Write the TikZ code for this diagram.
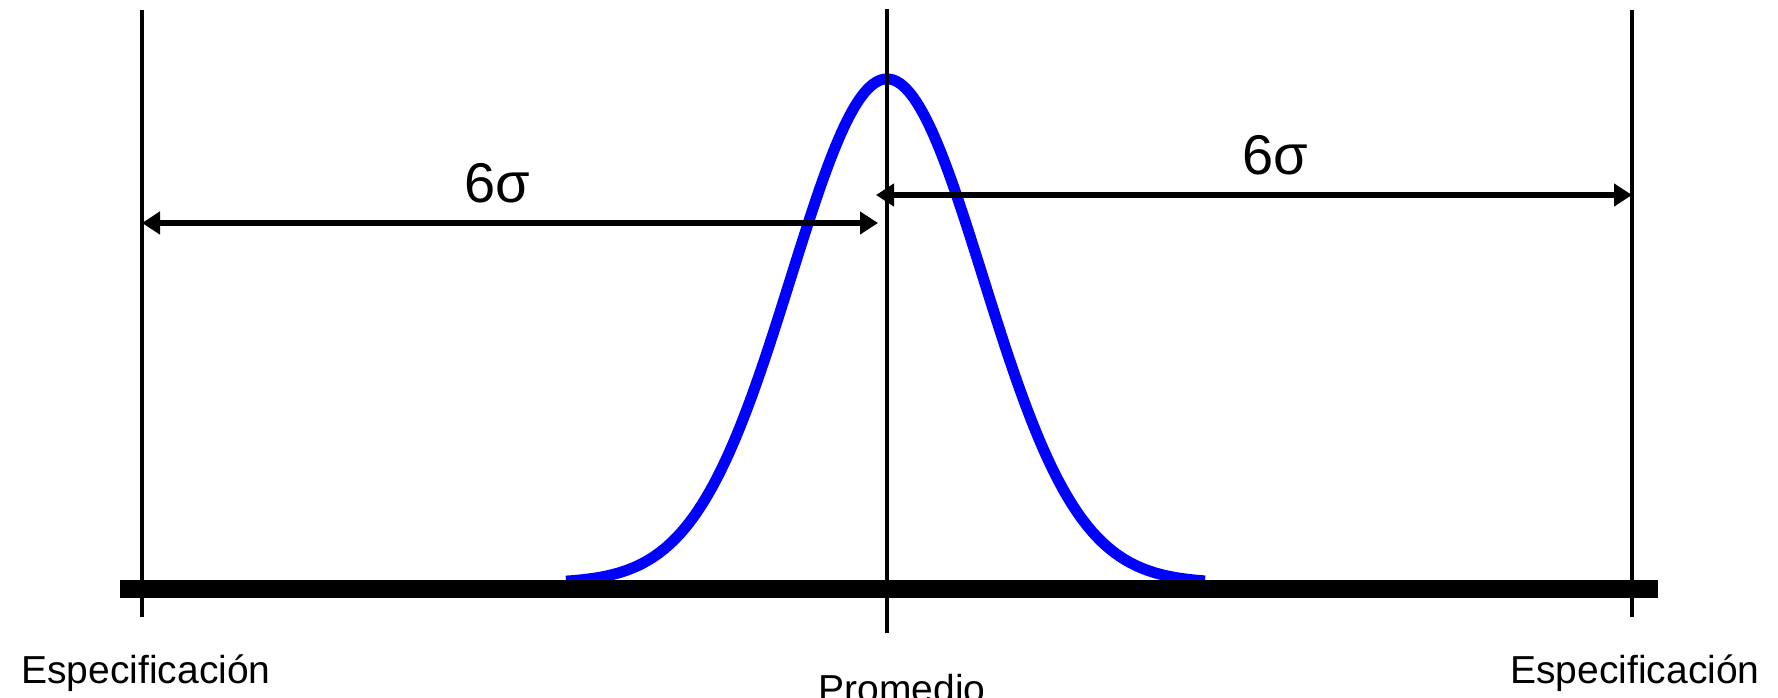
\documentclass[tikz,border=0pt]{standalone}
\usepackage{fontspec}
\setmainfont{Liberation Sans}
\usetikzlibrary{arrows.meta}
\begin{document}
\begin{tikzpicture}[x=1pt,y=-1pt,
  specline/.style={line width=4pt,black},
  dimarrow/.style={line width=6pt,black,{Triangle[length=18pt,width=22pt]}-{Triangle[length=18pt,width=22pt]}},
  curvestyle/.style={line width=11pt,blue},
  baseline/.style={line width=18pt,black},
  lbl/.style={font=\fontsize{39}{44}\selectfont,inner sep=0pt,anchor=base},
  sig/.style={font=\fontsize{56}{60}\selectfont,inner sep=0pt,anchor=base}]
\clip (0,0) rectangle (1778,698);
\fill[white] (0,0) rectangle (1778,698);
% coordinates
\coordinate (Ltop) at (142,10);
\coordinate (Lbot) at (142,617);
\coordinate (Mtop) at (887,9);
\coordinate (Mbot) at (887,633);
\coordinate (Rtop) at (1632,10);
\coordinate (Rbot) at (1632,617);
\coordinate (La) at (142,223);
\coordinate (Lb) at (878,223);
\coordinate (Ra) at (876,195);
\coordinate (Rb) at (1632,195);
\coordinate (B1) at (120,589);
\coordinate (B2) at (1658,589);
% normal curve
\draw[curvestyle] plot[domain=-321:318,samples=240] ({887+\x},{583-504*exp(-0.5*(\x/96)*(\x/96))});
% vertical lines
\draw[specline] (Ltop) -- (Lbot);
\draw[specline] (Mtop) -- (Mbot);
\draw[specline] (Rtop) -- (Rbot);
% base bar
\draw[baseline] (B1) -- (B2);
% dimension arrows
\draw[dimarrow] (La) -- (Lb);
\draw[dimarrow] (Ra) -- (Rb);
% labels
\node[sig] (s1) at (497,202) {6σ};
\node[sig] (s2) at (1275,175) {6σ};
\node[lbl] (e1) at (146,683) {Especificación};
\node[lbl] (e2) at (1635,683) {Especificación};
\node[lbl] (p) at (902,702) {Promedio};
\end{tikzpicture}
\end{document}
